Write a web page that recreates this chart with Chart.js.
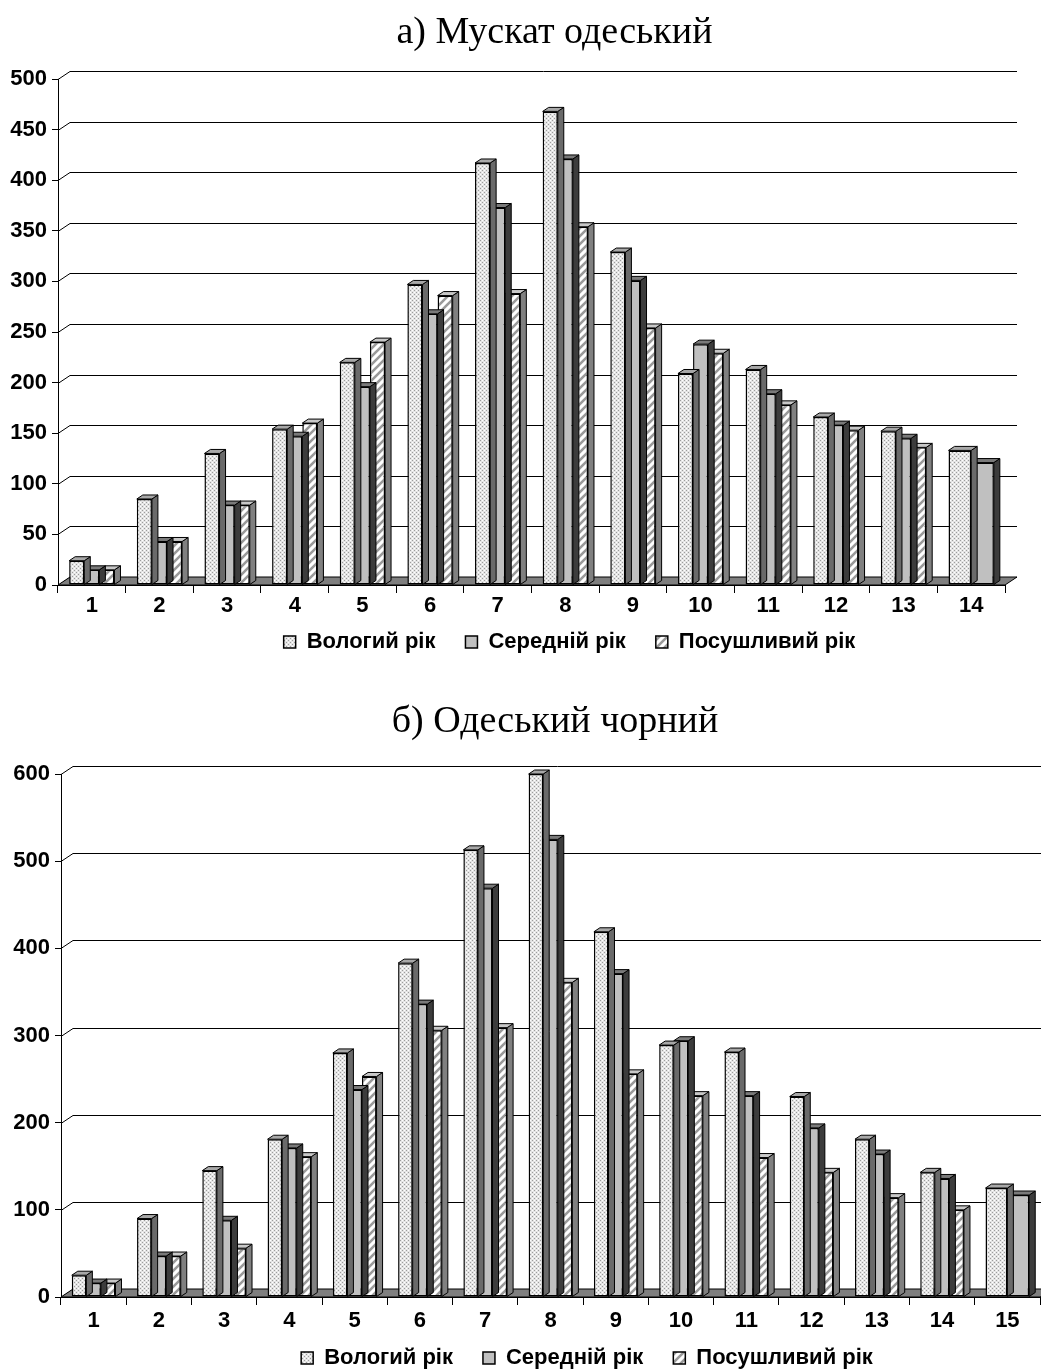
<!DOCTYPE html>
<html>
<head>
<meta charset="utf-8">
<title>Мускат одеський / Одеський чорний</title>
<script src="https://cdn.jsdelivr.net/npm/chart.js@4.4.1/dist/chart.umd.min.js"></script>
<style>
  body { margin: 0; background: #fff; }
  .wrap { position: absolute; left: 0; }
</style>
</head>
<body>
<div class="wrap" style="top:0"><canvas id="chartA" width="1041" height="668"></canvas></div>
<div class="wrap" style="top:668px"><canvas id="chartB" width="1041" height="702"></canvas></div>
<script>
// values
var seriesNames = ['Вологий рік', 'Середній рік', 'Посушливий рік'];

var labelsA = ['1', '2', '3', '4', '5', '6', '7', '8', '9', '10', '11', '12', '13', '14'];
var wetA = [24, 85, 130, 154, 220, 297, 417, 468, 329, 209, 213, 166, 152, 133];
var midA = [15, 43, 79, 147, 196, 268, 373, 421, 301, 238, 189, 158, 145, 121];
var dryA = [15, 43, 79, 160, 240, 286, 288, 354, 254, 229, 178, 153, 136, null];
var ticksA = [0, 50, 100, 150, 200, 250, 300, 350, 400, 450, 500];

var labelsB = ['1', '2', '3', '4', '5', '6', '7', '8', '9', '10', '11', '12', '13', '14', '15'];
var wetB = [25, 90, 145, 181, 280, 383, 513, 600, 419, 289, 281, 230, 181, 143, 125];
var midB = [16, 47, 88, 171, 238, 336, 469, 525, 371, 294, 231, 194, 164, 136, 117];
var dryB = [16, 47, 56, 161, 253, 306, 309, 361, 256, 231, 160, 143, 114, 100, null];
var ticksB = [0, 100, 200, 300, 400, 500, 600];

Chart.defaults.font.family = '"Liberation Sans", Arial, sans-serif';
Chart.defaults.color = '#000';

// fill patterns for the bars
function makePattern(w, h, draw) {
    var c = document.createElement('canvas');
    c.width = w;
    c.height = h;
    var g = c.getContext('2d');
    draw(g, w, h);
    return g.createPattern(c, 'repeat');
}

var dotted = makePattern(4, 4, function(g) {
    g.fillStyle = '#e4e4e4';
    g.fillRect(0, 0, 4, 4);
    g.fillStyle = '#9c9c9c';
    g.fillRect(0, 0, 1, 1);
    g.fillRect(2, 2, 1, 1);
    g.fillStyle = '#ffffff';
    g.fillRect(2, 0, 1, 1);
    g.fillRect(0, 2, 1, 1);
});

var striped = makePattern(8, 8, function(g) {
    g.fillStyle = '#ffffff';
    g.fillRect(0, 0, 8, 8);
    g.strokeStyle = '#9a9a9a';
    g.lineWidth = 2.6;
    g.beginPath();
    g.moveTo(-1, 9); g.lineTo(9, -1);
    g.moveTo(-3, 3); g.lineTo(3, -3);
    g.moveTo(5, 11); g.lineTo(11, 5);
    g.stroke();
});

var DX = 12, DY = 8;   // depth of back wall
var BX = 6, BY = 4;    // depth of each bar

var pseudo3d = {
    id: 'pseudo3d',
    beforeDatasetsDraw: function(chart) {
        var ctx = chart.ctx;
        var a = chart.chartArea;
        var ys = chart.scales.y;
        ctx.save();
        ctx.strokeStyle = '#000';
        ctx.lineWidth = 1;
        ys.ticks.forEach(function(t) {
            var py = Math.round(ys.getPixelForValue(t.value)) + 0.5;
            ctx.beginPath();
            ctx.moveTo(a.left, py);
            ctx.lineTo(a.left + DX, py - DY);
            ctx.lineTo(a.right + DX, py - DY);
            ctx.stroke();
        });
        // floor
        ctx.beginPath();
        ctx.moveTo(a.left, a.bottom);
        ctx.lineTo(a.right, a.bottom);
        ctx.lineTo(a.right + DX, a.bottom - DY);
        ctx.lineTo(a.left + DX, a.bottom - DY);
        ctx.closePath();
        ctx.fillStyle = '#7f7f7f';
        ctx.fill();
        ctx.stroke();
        ctx.restore();
    },
    afterDatasetDraw: function(chart, args) {
        var ctx = chart.ctx;
        var ds = chart.data.datasets[args.index];
        ctx.save();
        ctx.strokeStyle = '#000';
        ctx.lineWidth = 1;
        ctx.lineJoin = 'round';
        args.meta.data.forEach(function(bar, i) {
            if (ds.data[i] === null) return;
            var p = bar.getProps(['x', 'y', 'base', 'width'], true);
            var l = p.x - p.width / 2, r = p.x + p.width / 2;
            // side face
            ctx.beginPath();
            ctx.moveTo(r, p.y);
            ctx.lineTo(r + BX, p.y - BY);
            ctx.lineTo(r + BX, p.base - BY);
            ctx.lineTo(r, p.base);
            ctx.closePath();
            ctx.fillStyle = ds.sideColor;
            ctx.fill();
            ctx.stroke();
            // top face
            ctx.beginPath();
            ctx.moveTo(l, p.y);
            ctx.lineTo(l + BX, p.y - BY);
            ctx.lineTo(r + BX, p.y - BY);
            ctx.lineTo(r, p.y);
            ctx.closePath();
            ctx.fillStyle = ds.topColor;
            ctx.fill();
            ctx.stroke();
        });
        ctx.restore();
    }
};

function makeChart(id, labels, wet, mid, dry, ticks, title, lay) {
    // fixed legend height and shifted title / legend, as in the original figure
    var boxes = {
        id: 'boxes',
        beforeInit: function(chart) {
            var fit = chart.legend.fit;
            chart.legend.fit = function() {
                fit.call(this);
                this.height = lay.legendH;
            };
        },
        afterLayout: function(chart) {
            var lg = chart.legend;
            lg.left += lay.legendShift;
            lg.right += lay.legendShift;
            lg.top = lay.legendTop;
            lg.height = 90;
            lg.bottom = lay.legendTop + 90;
            chart.titleBlock.left += lay.titleShift;
            chart.titleBlock.right += lay.titleShift;
        }
    };
    var common = { borderColor: '#000', borderWidth: 1.5, borderSkipped: false };
    return new Chart(document.getElementById(id).getContext('2d'), {
        type: 'bar',
        data: {
            labels: labels,
            datasets: [
                Object.assign({ label: seriesNames[0], data: wet, backgroundColor: dotted,
                    sideColor: '#6a6a6a', topColor: '#a8a8a8' }, common),
                Object.assign({ label: seriesNames[1], data: mid, backgroundColor: '#c0c0c0',
                    sideColor: '#3c3c3c', topColor: '#7a7a7a' }, common),
                Object.assign({ label: seriesNames[2], data: dry, backgroundColor: striped,
                    sideColor: '#808080', topColor: '#c8c8c8' }, common)
            ]
        },
        options: {
            responsive: false,
            animation: false,
            layout: { padding: { left: 0, right: lay.right, top: 0, bottom: 0 } },
            datasets: {
                bar: { categoryPercentage: 0.67, barPercentage: 1.0, skipNull: true }
            },
            scales: {
                x: {
                    grid: { drawOnChartArea: false, offset: true, tickLength: 8, color: '#000' },
                    border: { color: '#000', width: 1 },
                    ticks: { font: { size: 22, weight: 'bold' }, padding: lay.xPad, maxRotation: 0, autoSkip: false }
                },
                y: {
                    min: ticks[0],
                    max: ticks[ticks.length - 1],
                    afterBuildTicks: function(s) {
                        s.ticks = ticks.map(function(v) { return { value: v }; });
                    },
                    grid: { drawOnChartArea: false, tickLength: 6, color: '#000' },
                    border: { color: '#000', width: 1 },
                    ticks: { font: { size: 22, weight: 'bold' }, padding: 5 },
                    afterFit: function(s) { s.width = lay.yW; }
                }
            },
            plugins: {
                title: {
                    display: true,
                    text: title,
                    color: '#000',
                    font: { family: '"Liberation Serif", "Times New Roman", serif', size: 38, weight: 'normal' },
                    padding: { top: lay.titleTop, bottom: lay.titleBottom }
                },
                legend: {
                    position: 'bottom',
                    labels: {
                        boxWidth: 12,
                        boxHeight: 12,
                        padding: 30,
                        font: { size: 22, weight: 'bold' }
                    }
                },
                tooltip: { enabled: false }
            }
        },
        plugins: [pseudo3d, boxes]
    });
}

makeChart('chartA', labelsA, wetA, midA, dryA, ticksA, 'а) Мускат одеський',
    { right: 36, yW: 58, xPad: 0, legendH: 48.6, legendTop: 601, legendShift: 67,
      titleShift: 52, titleTop: 10, titleBottom: 23.4 });
makeChart('chartB', labelsB, wetB, midB, dryB, ticksB, 'б) Одеський чорний',
    { right: 1, yW: 61, xPad: 3, legendH: 32.6, legendTop: 649, legendShift: 67,
      titleShift: 35, titleTop: 31, titleBottom: 29.4 });
</script>
</body>
</html>
